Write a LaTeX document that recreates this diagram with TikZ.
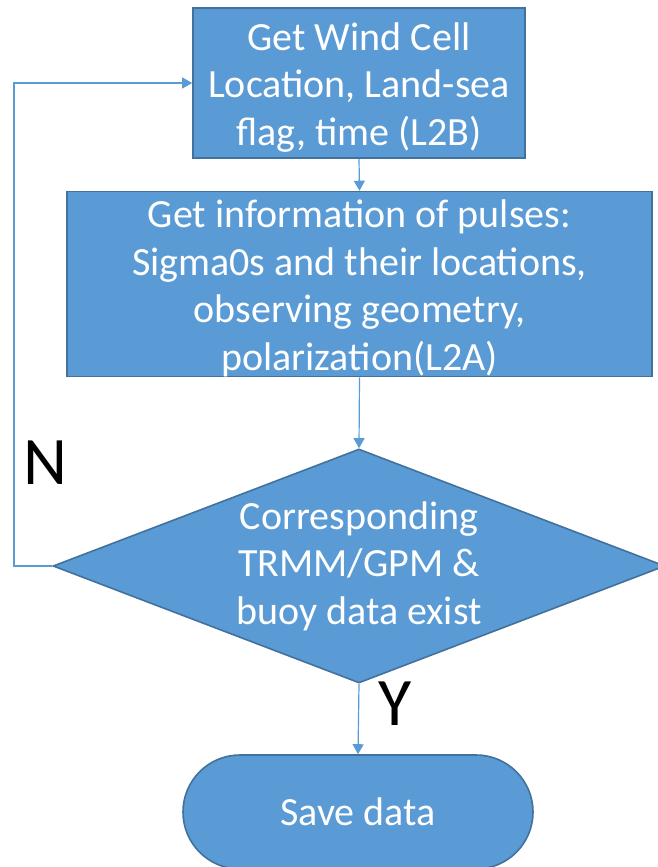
\documentclass[tikz,border=0pt]{standalone}
\usepackage{fontspec}
\setmainfont{Carlito}
\usetikzlibrary{shapes.geometric,arrows.meta}
\definecolor{boxblue}{HTML}{5B9BD5}
\definecolor{boxedge}{HTML}{41719C}

\begin{document}
\begin{tikzpicture}[x=1pt,y=-1pt]

      \useasboundingbox (0,0) rectangle (657,867);

      \begin{scope}[every node/.style={fill=boxblue,draw=boxedge,line width=1.6pt,text=white,align=center,inner sep=0pt,font=\fontsize{40}{47.5}\selectfont}]
        \node[minimum width=332pt,minimum height=150pt] (wind)  at (359,83)  {\rule{0pt}{36pt}Get Wind Cell\\Location, Land-sea\\flag, time (L2B)};
        \node[minimum width=585pt,minimum height=176pt] (pulse) at (359.5,284) {\rule{0pt}{36pt}Get information of pulses:\\Sigma0s and their locations,\\observing geometry,\\polarization(L2A)};
        \node[diamond,aspect=2.615,minimum width=612pt,minimum height=234pt] (check) at (359,566) {Corresponding\\TRMM/GPM \&\\buoy data exist};
        \node[rounded corners=57pt,minimum width=350pt,minimum height=114pt] (save) at (358,812) {Save data};
      \end{scope}

      \coordinate (back) at (14,80);

      \begin{scope}[every node/.style={text=black,font=\fontsize{68}{80}\selectfont}]
        \node (no)  at (45,463)  {N};
        \node (yes) at (395,704) {Y};
      \end{scope}

      \begin{scope}[every edge/.style={draw=boxblue,line width=1.2pt,-{Triangle[length=10pt,width=11pt]}}]
        \path (wind.south)  edge (pulse.north);
        \path (pulse.south) edge (check.north);
        \path (check.south) edge (save.north);
      \end{scope}

      \draw[boxblue,line width=1.2pt,-{Triangle[length=10pt,width=11pt]}] (check.west) -- (check.west -| back) |- (wind.west);

    \end{tikzpicture}
\end{document}
